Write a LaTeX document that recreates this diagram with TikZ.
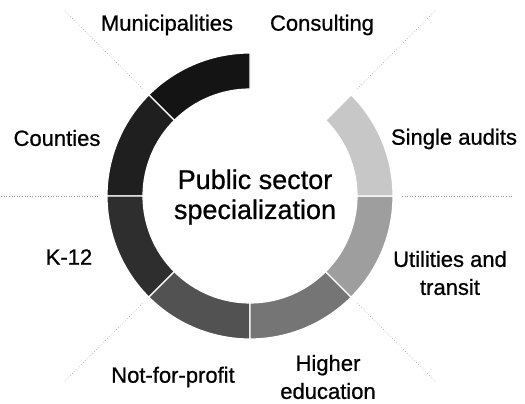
\documentclass[tikz,border=0pt]{standalone}
\usepackage{fontspec}
\setmainfont[FakeBold=0.8]{Liberation Sans}
\usetikzlibrary{positioning}

\begin{document}
\begin{tikzpicture}[x=1pt,y=1pt,
  lbl/.style={font=\fontsize{22}{28}\selectfont, align=center, inner sep=0pt},
  guide/.style={black!40, dotted, line width=0.6pt}]
  \useasboundingbox (0,0) rectangle (525,404);

  \begin{scope}[shift={(250,208)}]
    % Guide lines
    \foreach \a in {0,45,135,180,225,315} {
      \draw[guide] (\a:152) -- (\a:262);
    }

    % Ring segments
    \foreach \a/\b/\g in {90/135/92, 135/180/88, 180/225/82, 225/270/68, 270/315/54, 315/360/38, 0/45/22} {
      \fill[black!\g, draw=white, line width=1.2pt] (\a:143) arc[start angle=\a, end angle=\b, radius=143]
        -- (\b:107) arc[start angle=\b, end angle=\a, radius=107] -- cycle;
    }
  \end{scope}

  % Centre title
  \node[font=\fontsize{27}{30}\selectfont, align=center] (title) at (255,207) {Public sector\\specialization};

  % Labels
  \node[lbl] (muni) at (167,379) {Municipalities};
  \node[lbl] (consult) at (322,379) {Consulting};
  \node[lbl] (counties) at (57,266) {Counties};
  \node[lbl] (single) at (454,265) {Single audits};
  \node[lbl] (kxii) at (69,147) {K-12};
  \node[lbl] (util) at (450,131) {Utilities and\\transit};
  \node[lbl] (nfp) at (173,27) {Not-for-profit};
  \node[lbl] (higher) at (328,27) {Higher\\education};
\end{tikzpicture}
\end{document}
